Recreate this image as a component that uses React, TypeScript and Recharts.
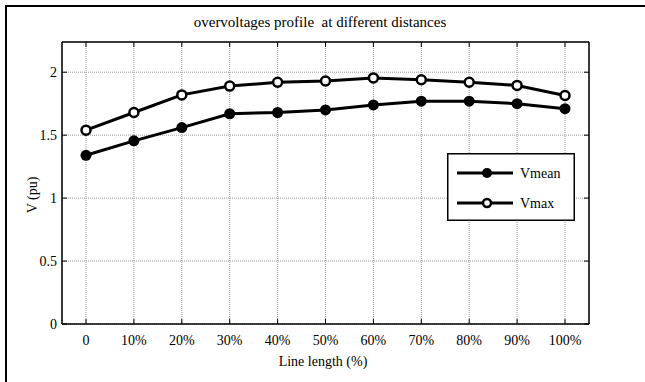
import React from 'react';
import { LineChart, Line, XAxis, YAxis, CartesianGrid, Legend } from 'recharts';

const categories = ['0', '10%', '20%', '30%', '40%', '50%', '60%', '70%', '80%', '90%', '100%'];
const vmean = [1.34, 1.455, 1.56, 1.67, 1.68, 1.70, 1.74, 1.77, 1.77, 1.75, 1.71];
const vmax = [1.54, 1.68, 1.82, 1.89, 1.92, 1.93, 1.955, 1.94, 1.92, 1.895, 1.815];
const yTicks = [0, 0.5, 1, 1.5, 2];
const yTickLabels = ['0', '0.5', '1', '1.5', '2'];

const data = categories.map((c, i) => ({ cat: c, vmean: vmean[i], vmax: vmax[i] }));

const W = 645;
const H = 382;
const PL = 62;
const PR = 589;
const PT = 42;
const PB = 324;
const FONT = '"Liberation Serif", "Times New Roman", serif';

const renderBottomTick = (props: any) => {
  const { x, payload, index } = props;
  return (
    <g key={`b-${index}`}>
      <line x1={x} y1={PB} x2={x} y2={PB - 5} stroke="#000" strokeWidth={1} />
      <text x={x} y={PB + 21} textAnchor="middle" fontSize={14} style={{ fontFamily: FONT }} fill="#000">
        {payload.value}
      </text>
    </g>
  );
};

const renderTopTick = (props: any) => {
  const { x, index } = props;
  return <line key={`t-${index}`} x1={x} y1={PT} x2={x} y2={PT + 5} stroke="#000" strokeWidth={1} />;
};

const renderLeftTick = (props: any) => {
  const { y, payload, index } = props;
  const idx = yTicks.indexOf(payload.value);
  return (
    <g key={`l-${index}`}>
      <line x1={PL} y1={y} x2={PL + 5} y2={y} stroke="#000" strokeWidth={1} />
      <text x={PL - 5} y={y + 5} textAnchor="end" fontSize={14} style={{ fontFamily: FONT }} fill="#000">
        {idx >= 0 ? yTickLabels[idx] : payload.value}
      </text>
    </g>
  );
};

const renderRightTick = (props: any) => {
  const { y, index } = props;
  return <line key={`r-${index}`} x1={PR} y1={y} x2={PR - 5} y2={y} stroke="#000" strokeWidth={1} />;
};

const LegendBox = () => (
  <svg width={128} height={68} style={{ display: 'block' }}>
    <rect x={0.75} y={0.75} width={126.5} height={66.5} fill="#fff" stroke="#000" strokeWidth={1.5} />
    <line x1={10} y1={20} x2={66} y2={20} stroke="#000" strokeWidth={3} />
    <circle cx={40} cy={20} r={5} fill="#000" />
    <text x={73} y={25} fontSize={14} style={{ fontFamily: FONT }} fill="#000">Vmean</text>
    <line x1={10} y1={50} x2={66} y2={50} stroke="#000" strokeWidth={3} />
    <circle cx={40} cy={50} r={4} fill="#fff" stroke="#000" strokeWidth={2.5} />
    <text x={73} y={55} fontSize={14} style={{ fontFamily: FONT }} fill="#000">Vmax</text>
  </svg>
);

export default function App() {
  return (
    <div style={{ position: 'absolute', left: 0, top: 0, width: W, height: H, background: '#fff', overflow: 'hidden', fontFamily: FONT }}>
      <div style={{ position: 'absolute', left: 5, top: 5, width: W + 10, height: H + 10, borderLeft: '2.5px solid #000', borderTop: '2.5px solid #000', boxSizing: 'border-box' }} />
      <div style={{ position: 'absolute', left: 0, width: 640, top: 13, textAlign: 'center', fontSize: 15, lineHeight: '18px', color: '#000' }}>
        overvoltages profile&nbsp; at different distances
      </div>
      <div style={{ position: 'absolute', left: 323 - 100, width: 200, top: 353, textAlign: 'center', fontSize: 14, lineHeight: '18px', color: '#000' }}>
        Line length (%)
      </div>
      <div style={{ position: 'absolute', left: 33 - 50, top: 195 - 9, width: 100, height: 18, textAlign: 'center', fontSize: 14, lineHeight: '18px', color: '#000', transform: 'rotate(-90deg)' }}>
        V (pu)
      </div>
      <div style={{ position: 'absolute', left: 0, top: 0 }}>
        <LineChart width={W} height={H} data={data} margin={{ top: PT - 2, right: W - PR - 2, bottom: H - PB - 30, left: 0 }}>
          <CartesianGrid xAxisId="b" yAxisId="l" stroke="#999" strokeDasharray="1 1" strokeWidth={1} />
          <XAxis xAxisId="b" dataKey="cat" orientation="bottom" height={30} padding={{ left: 24, right: 24 }} interval={0}
            axisLine={{ stroke: '#000', strokeWidth: 1.5 }} tickLine={false} tick={renderBottomTick} />
          <XAxis xAxisId="t" dataKey="cat" orientation="top" height={2} padding={{ left: 24, right: 24 }} interval={0}
            axisLine={{ stroke: '#000', strokeWidth: 1.5 }} tickLine={false} tick={renderTopTick} />
          <YAxis yAxisId="l" orientation="left" width={PL} domain={[0, 2.24]} ticks={yTicks} interval={0}
            axisLine={{ stroke: '#000', strokeWidth: 1.5 }} tickLine={false} tick={renderLeftTick} allowDataOverflow />
          <YAxis yAxisId="r" orientation="right" width={2} domain={[0, 2.24]} ticks={yTicks} interval={0}
            axisLine={{ stroke: '#000', strokeWidth: 1.5 }} tickLine={false} tick={renderRightTick} allowDataOverflow />
          <Legend layout="horizontal" verticalAlign="middle" align="center" content={() => <LegendBox />}
            wrapperStyle={{ position: 'absolute', left: 447, top: 153, width: 128, height: 68 }} />
          <Line xAxisId="b" yAxisId="l" dataKey="vmean" name="Vmean" stroke="#000" strokeWidth={3} isAnimationActive={false}
            dot={{ r: 5.5, fill: '#000', stroke: '#000', strokeWidth: 0 }} activeDot={false} />
          <Line xAxisId="b" yAxisId="l" dataKey="vmax" name="Vmax" stroke="#000" strokeWidth={3} isAnimationActive={false}
            dot={{ r: 4.5, fill: '#fff', stroke: '#000', strokeWidth: 2.5 }} activeDot={false} />
        </LineChart>
      </div>
    </div>
  );
}
